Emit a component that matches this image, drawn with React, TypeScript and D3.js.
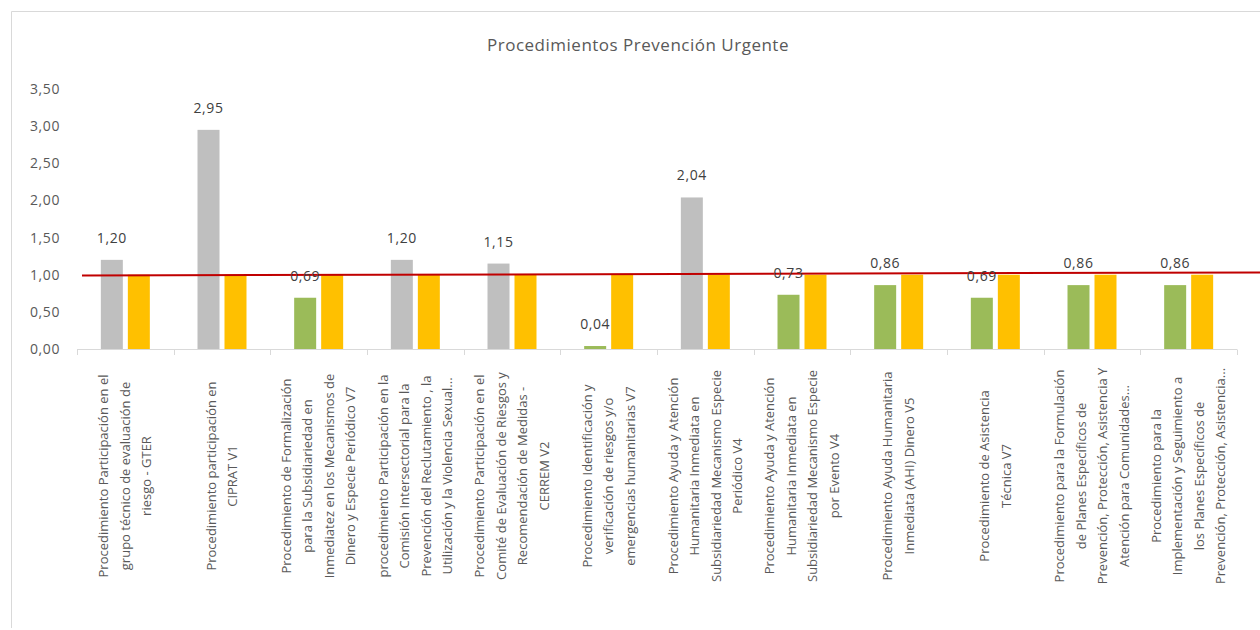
import { useRef, useEffect } from "react";
import * as d3 from "d3";

const categories = [
  ["Procedimiento Participación en el", "grupo técnico de evaluación de", "riesgo - GTER"],
  ["Procedimiento participación en", "CIPRAT V1"],
  ["Procedimiento de Formalización", "para la Subsidiariedad en", "Inmediatez en los Mecanismos de", "Dinero y Especie Periódico V7"],
  ["procedimiento Participación en la", "Comisión Intersectorial para la", "Prevención del Reclutamiento , la", "Utilización y la Violencia Sexual..."],
  ["Procedimiento Participación en el", "Comité de Evaluación de Riesgos y", "Recomendación de Medidas -", "CERREM V2"],
  ["Procedimiento Identificación y", "verificación de riesgos y/o", "emergencias humanitarias V7"],
  ["Procedimiento Ayuda y Atención", "Humanitaria Inmediata en", "Subsidiariedad Mecanismo Especie", "Periódico V4"],
  ["Procedimiento Ayuda y Atención", "Humanitaria Inmediata en", "Subsidiariedad Mecanismo Especie", "por Evento V4"],
  ["Procedimiento Ayuda Humanitaria", "Inmediata (AHI) Dinero V5"],
  ["Procedimiento de Asistencia", "Técnica V7"],
  ["Procedimiento para la Formulación", "de Planes Específicos de", "Prevención, Protección, Asistencia Y", "Atención para Comunidades..."],
  ["Procedimiento para la", "Implementación y Seguimiento a", "los Planes Específicos de", "Prevención, Protección, Asistencia..."],
];
const values = [1.2, 2.95, 0.69, 1.2, 1.15, 0.04, 2.04, 0.73, 0.86, 0.69, 0.86, 0.86];
const targets = [1, 1, 1, 1, 1, 1, 1, 1, 1, 1, 1, 1];
const redLine = [0.99, 1.03]; // reference line, left end / right end
const yTicks = [0, 0.5, 1, 1.5, 2, 2.5, 3, 3.5];

const W = 1260;
const H = 630;
const FONT = "'Open Sans', 'Noto Sans', sans-serif";

const App = () => {
  const svgRef = useRef<SVGSVGElement>(null);

  useEffect(() => {
    const svg = d3.select(svgRef.current);
    svg.selectAll("*").remove();

    const x = d3.scaleBand<number>()
      .domain(categories.map((_, i) => i))
      .range([77, 1237]);
    const inner = d3.scaleBand<string>()
      .domain(["value", "target"])
      .range([0, x.bandwidth()])
      .paddingInner(0.185)
      .paddingOuter(0.883);
    const y = d3.scaleLinear().domain([0, 3.5]).range([349, 89]);
    const fmt = (v: number) => d3.format(".2f")(v).replace(".", ",");

    // chart frame (no right / bottom edge visible)
    svg.append("path")
      .attr("d", `M11.5,628 V11.5 H${W}`)
      .attr("fill", "none")
      .attr("stroke", "#d9d9d9");

    svg.append("text")
      .attr("x", 638)
      .attr("y", 50.5)
      .attr("text-anchor", "middle")
      .attr("font-size", 17)
      .attr("letter-spacing", 0.5)
      .attr("fill", "#595959")
      .text("Procedimientos Prevención Urgente");

    // y axis labels
    svg.selectAll(".ytick")
      .data(yTicks)
      .join("text")
      .attr("class", "ytick")
      .attr("x", 60)
      .attr("y", d => y(d) + 5)
      .attr("text-anchor", "end")
      .attr("font-size", 14)
      .attr("letter-spacing", 0.6)
      .attr("fill", "#595959")
      .text(d => fmt(d));

    // value bars
    svg.selectAll(".bar")
      .data(values)
      .join("rect")
      .attr("class", "bar")
      .attr("x", (_, i) => x(i)! + inner("value")!)
      .attr("width", inner.bandwidth())
      .attr("y", d => y(d))
      .attr("height", d => y(0) - y(d))
      .attr("fill", d => (d >= 1 ? "#bfbfbf" : "#9bbb59"));

    svg.selectAll(".target")
      .data(targets)
      .join("rect")
      .attr("class", "target")
      .attr("x", (_, i) => x(i)! + inner("target")!)
      .attr("width", inner.bandwidth())
      .attr("y", d => y(d))
      .attr("height", d => y(0) - y(d))
      .attr("fill", "#ffc000");

    // x axis
    svg.append("line")
      .attr("x1", 77).attr("x2", 1237)
      .attr("y1", 349.5).attr("y2", 349.5)
      .attr("stroke", "#d9d9d9");
    svg.selectAll(".xtick")
      .data(d3.range(categories.length + 1))
      .join("line")
      .attr("class", "xtick")
      .attr("x1", i => Math.round(77 + i * x.step()) + 0.5)
      .attr("x2", i => Math.round(77 + i * x.step()) + 0.5)
      .attr("y1", 349.5)
      .attr("y2", 355)
      .attr("stroke", "#d9d9d9");

    // red reference line
    svg.append("line")
      .attr("x1", 82).attr("x2", W)
      .attr("y1", y(redLine[0])).attr("y2", y(redLine[1]))
      .attr("stroke", "#c00000")
      .attr("stroke-width", 2);

    // data labels
    svg.selectAll(".dlabel")
      .data(values)
      .join("text")
      .attr("class", "dlabel")
      .attr("x", (_, i) => x(i)! + inner("value")! + inner.bandwidth() / 2)
      .attr("y", d => y(d) - 17)
      .attr("text-anchor", "middle")
      .attr("font-size", 14)
      .attr("letter-spacing", 0.6)
      .attr("fill", "#404040")
      .text(d => fmt(d));

    // rotated category labels
    const lineH = 21.5;
    const g = svg.selectAll(".cat")
      .data(categories)
      .join("g")
      .attr("class", "cat")
      .attr("transform", (_, i) => `translate(${x(i)! + x.bandwidth() / 2},476) rotate(-90)`);
    g.each(function (lines) {
      const n = lines.length;
      d3.select(this)
        .selectAll("text")
        .data(lines)
        .join("text")
        .attr("x", 0)
        .attr("y", (_, j) => (j - (n - 1) / 2) * lineH + 4.5)
        .attr("text-anchor", "middle")
        .attr("font-size", 13)
        .attr("fill", "#595959")
        .text(d => d);
    });
  }, []);

  return (
    <svg
      ref={svgRef}
      width={W}
      height={H}
      style={{ position: "absolute", left: 0, top: 0, background: "#fff", fontFamily: FONT }}
    />
  );
};

export default App;
